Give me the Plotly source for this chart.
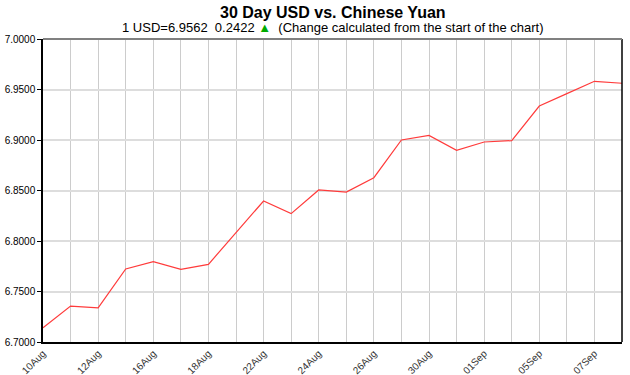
import plotly.graph_objects as go

dates = ["10Aug", "11Aug", "12Aug", "15Aug", "16Aug", "17Aug", "18Aug", "19Aug",
         "22Aug", "23Aug", "24Aug", "25Aug", "26Aug", "29Aug", "30Aug", "31Aug",
         "01Sep", "02Sep", "05Sep", "06Sep", "07Sep", "08Sep"]
rates = [6.7140, 6.7356, 6.7337, 6.7723, 6.7796, 6.7720, 6.7769, 6.8083,
         6.8396, 6.8271, 6.8505, 6.8485, 6.8627, 6.9000, 6.9046, 6.8898,
         6.8980, 6.8994, 6.9336, 6.9459, 6.9581, 6.9562]
tick_labels = dates[::2]
y_ticks = [6.70, 6.75, 6.80, 6.85, 6.90, 6.95, 7.00]

idx = list(range(len(dates)))

fig = go.Figure()
fig.add_trace(go.Scatter(x=idx, y=rates, mode="lines",
                         line=dict(color="#ff3b3b", width=1.2),
                         hoverinfo="skip"))

fig.update_layout(
    width=630, height=375,
    margin=dict(l=43, r=8, t=39, b=33),
    paper_bgcolor="white", plot_bgcolor="white",
    showlegend=False,
    font=dict(family="Liberation Sans, Arial, sans-serif", color="black"),
)
fig.update_xaxes(
    range=[0, len(dates) - 1],
    tickmode="array", tickvals=idx[::2], ticktext=tick_labels,
    tickangle=-45, tickfont=dict(size=10, color="#333333"),
    showgrid=True, gridcolor="#cccccc", gridwidth=1,
    showline=True, linecolor="black", linewidth=1.5,
    ticks="", zeroline=False, automargin=False,
)
fig.update_xaxes(minor=dict(tickvals=idx[1::2], showgrid=True, gridcolor="#cccccc", gridwidth=1))
fig.update_yaxes(
    range=[6.70, 7.00],
    tickmode="array", tickvals=y_ticks, ticktext=[f"{v:.4f}" for v in y_ticks],
    tickfont=dict(size=10, color="black"),
    showgrid=True, gridcolor="#dddddd", gridwidth=1.5,
    showline=True, linecolor="black", linewidth=1.5,
    ticks="outside", ticklen=4, tickcolor="black", tickwidth=1,
    zeroline=False, automargin=False,
)
fig.add_shape(type="line", xref="paper", yref="paper", x0=1, x1=1, y0=0, y1=1,
              line=dict(color="black", width=1.5))
fig.add_shape(type="line", xref="paper", yref="paper", x0=0, x1=1, y0=1, y1=1,
              line=dict(color="#808080", width=2))

fig.add_annotation(text="<b>30 Day USD vs. Chinese Yuan</b>", xref="paper", yref="paper",
                   x=0.5, y=1, yshift=27, xanchor="center", yanchor="middle",
                   showarrow=False, font=dict(size=16, color="black"))
fig.add_annotation(text="1 USD=6.9562&nbsp;&nbsp;0.2422 <span style='color:#00aa00'>▲</span>&nbsp;&nbsp;(Change calculated from the start of the chart)",
                   xref="paper", yref="paper",
                   x=0.5, y=1, yshift=12, xanchor="center", yanchor="middle",
                   showarrow=False, font=dict(size=13, color="black"))

fig.write_html("out.html")
